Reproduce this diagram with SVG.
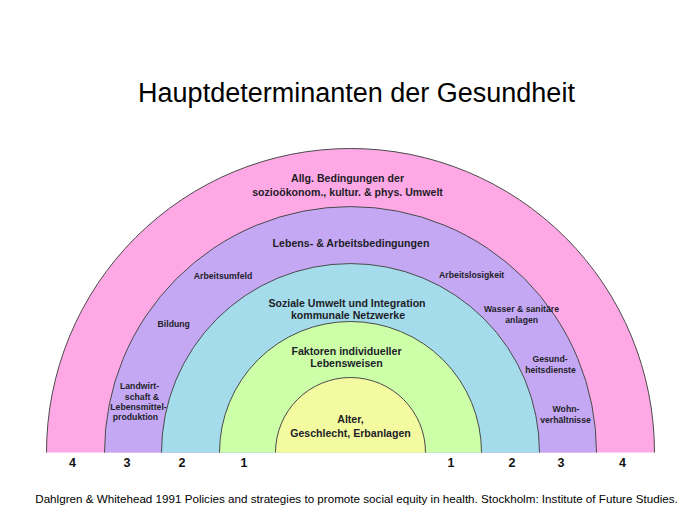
<svg xmlns="http://www.w3.org/2000/svg" width="700" height="525" viewBox="0 0 700 525">
<style>
.ring{stroke:#4a4a4a;stroke-width:1}
.t{font-family:"Liberation Sans",Arial,sans-serif;fill:#1e1e28;text-anchor:middle}
.main{font-size:10.6px;font-weight:bold}
.small{font-size:8.7px;font-weight:bold}
.num{font-size:12.5px;font-weight:bold;fill:#111}
.title{font-size:27px;fill:#000}
.foot{font-size:11.65px;fill:#000}
</style>
<rect width="700" height="525" fill="#ffffff"/>
<text class="t title" x="356.5" y="102">Hauptdeterminanten der Gesundheit</text>
<g id="ring4">
<path class="ring" fill="#FFA8E6" d="M46.5 452.5 A304 304 0 0 1 654.5 452.5"/>
<text class="t main" x="347.5" y="182">Allg. Bedingungen der</text>
<text class="t main" x="347.5" y="196">sozioökonom., kultur. &amp; phys. Umwelt</text>
</g>
<g id="ring3">
<path class="ring" fill="#C4A8F4" d="M104.5 452.5 A246 246 0 0 1 596.5 452.5"/>
<text class="t main" x="351" y="247">Lebens- &amp; Arbeitsbedingungen</text>
<text class="t small" x="223" y="279.3">Arbeitsumfeld</text>
<text class="t small" x="173.7" y="327.3">Bildung</text>
<text class="t small" x="139.5" y="389">Landwirt-</text>
<text class="t small" x="142" y="399.5">schaft &amp;</text>
<text class="t small" x="138.5" y="409.5">Lebensmittel-</text>
<text class="t small" x="135.5" y="419.5">produktion</text>
<text class="t small" x="471.7" y="278.3">Arbeitslosigkeit</text>
<text class="t small" x="521.5" y="312">Wasser &amp; sanitäre</text>
<text class="t small" x="521.7" y="323">anlagen</text>
<text class="t small" x="550" y="362">Gesund-</text>
<text class="t small" x="550.5" y="373">heitsdienste</text>
<text class="t small" x="566" y="412">Wohn-</text>
<text class="t small" x="565.5" y="422.5">verhältnisse</text>
</g>
<g id="ring2">
<path class="ring" fill="#A4DCEC" d="M161.5 452.5 A189 189 0 0 1 539.5 452.5"/>
<text class="t main" x="347" y="307.3">Soziale Umwelt und Integration</text>
<text class="t main" x="348" y="318.8">kommunale Netzwerke</text>
</g>
<g id="ring1">
<path class="ring" fill="#CCFFA8" d="M219.5 452.5 A131 131 0 0 1 481.5 452.5"/>
<text class="t main" x="346.5" y="355">Faktoren individueller</text>
<text class="t main" x="346.5" y="367">Lebensweisen</text>
</g>
<g id="core">
<path class="ring" fill="#F4FAA0" d="M275.5 452.5 A75 75 0 0 1 425.5 452.5"/>
<text class="t main" x="350.5" y="423.3">Alter,</text>
<text class="t main" x="350.5" y="436.7">Geschlecht, Erbanlagen</text>
</g>
<g id="numbers">
<text class="t num" x="72.5" y="466.5">4</text>
<text class="t num" x="127" y="466.5">3</text>
<text class="t num" x="182" y="466.5">2</text>
<text class="t num" x="244" y="466.5">1</text>
<text class="t num" x="451" y="466.5">1</text>
<text class="t num" x="512" y="466.5">2</text>
<text class="t num" x="561" y="466.5">3</text>
<text class="t num" x="622.5" y="466.5">4</text>
</g>
<text class="t foot" x="356.5" y="503">Dahlgren &amp; Whitehead 1991 Policies and strategies to promote social equity in health. Stockholm: Institute of Future Studies.</text>
</svg>
